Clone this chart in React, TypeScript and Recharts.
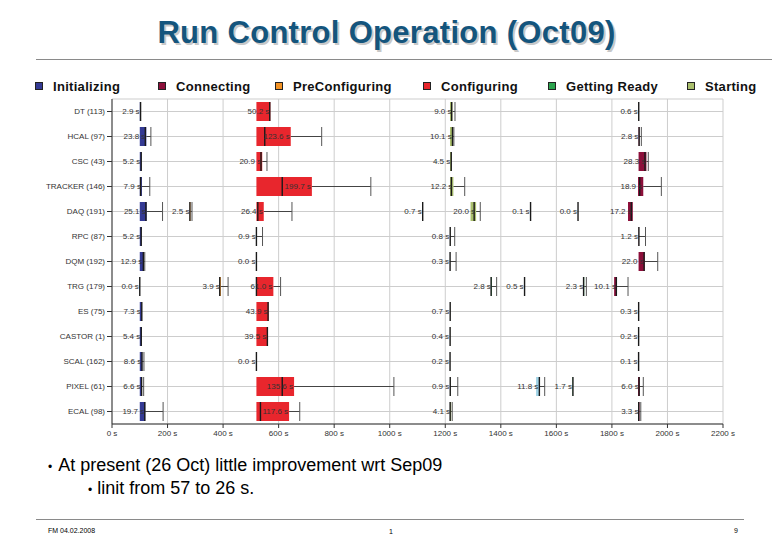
import { BarChart, Bar, XAxis, YAxis, CartesianGrid } from 'recharts';

// phase legend
const phases = ['Initializing', 'Connecting', 'PreConfiguring', 'Configuring', 'Getting Ready', 'Starting'];
const phaseColors = ['#343a94', '#8c0f3a', '#f39325', '#e8262d', '#2ca44e', '#aabf6d', '#9fd3e6'];
const legendWidths = [123, 117, 148, 125, 139, 70];

const rows = [
  'DT (113)', 'HCAL (97)', 'CSC (43)', 'TRACKER (146)', 'DAQ (191)', 'RPC (87)', 'DQM (192)',
  'TRG (179)', 'ES (75)', 'CASTOR (1)', 'SCAL (162)', 'PIXEL (61)', 'ECAL (98)',
];

const xTicks = [0, 200, 400, 600, 800, 1000, 1200, 1400, 1600, 1800, 2000, 2200];

// [start, mean, median, max, phase] in seconds
type Seg = [number, number, number, number, number];

const dt: Seg[] = [[100, 2.9, 2.9, 2.9, 0], [520, 50.2, 48, 50.2, 3], [1217, 9.0, 6, 18, 5], [1896, 0.6, 0.6, 0.6, 1]];
const hcal: Seg[] = [[100, 23.8, 20, 40, 0], [520, 123.6, 30, 235, 3], [1217, 10.1, 9, 14, 5], [1896, 2.8, 2, 10, 1]];
const csc: Seg[] = [[100, 5.2, 5.2, 5.2, 0], [520, 20.9, 16.5, 38, 3], [1217, 4.5, 4.5, 4.5, 5], [1896, 28.3, 23, 35, 1]];
const tracker: Seg[] = [[100, 7.9, 3, 36, 0], [520, 199.7, 93, 412, 3], [1217, 12.2, 5, 53, 5], [1894, 18.9, 6, 84, 1]];
const daq: Seg[] = [
  [100, 25.1, 22, 82, 0], [280, 2.5, 0.5, 8, 2], [520, 26.4, 5, 128, 3], [1118, 0.7, 0.7, 0.7, 4],
  [1291, 20.0, 13, 35, 5], [1507, 0.1, 0.1, 0.1, 4], [1678, 0.0, 0, 0, 4], [1858, 17.2, 12, 17.2, 1],
];
const rpc: Seg[] = [[100, 5.2, 5.2, 5.2, 0], [520, 0.9, 0, 22, 3], [1217, 0.8, 0.8, 17, 5], [1896, 1.2, 1.2, 25, 1]];
const dqm: Seg[] = [[100, 12.9, 12.9, 18, 0], [520, 0.0, 0, 0, 3], [1217, 0.3, 0.3, 22, 5], [1896, 22.0, 20, 69, 1]];
const trg: Seg[] = [
  [100, 0.0, 0, 0, 0], [388, 3.9, 0, 30, 2], [520, 61.0, 0, 87, 3], [1365, 2.8, 0, 20, 4],
  [1485, 0.5, 0.5, 0.5, 4], [1698, 2.3, 0, 10, 4], [1808, 10.1, 8, 50, 1],
];
const es: Seg[] = [[100, 7.3, 7.3, 7.3, 0], [520, 43.9, 42, 43.9, 3], [1217, 0.7, 0.7, 0.7, 5], [1896, 0.3, 0.3, 0.3, 1]];
const castor: Seg[] = [[100, 5.4, 5.4, 5.4, 0], [520, 39.5, 39.5, 39.5, 3], [1217, 0.4, 0.4, 0.4, 5], [1896, 0.2, 0.2, 0.2, 1]];
const scal: Seg[] = [[100, 8.6, 8, 15, 0], [520, 0.0, 0, 0, 3], [1217, 0.2, 0.2, 0.2, 5], [1896, 0.1, 0.1, 0.1, 1]];
const pixel: Seg[] = [
  [100, 6.6, 6.6, 14, 0], [520, 135.6, 93, 495, 3], [1217, 0.9, 0.9, 28, 5],
  [1527, 11.8, 11.8, 31, 6], [1658, 1.7, 1.7, 1.7, 4], [1894, 6.0, 4, 19, 1],
];
const ecal: Seg[] = [[100, 19.7, 18, 84, 0], [520, 117.6, 14.5, 156, 3], [1217, 4.1, 0.5, 8, 5], [1896, 3.3, 0.5, 8, 1]];

const rowSegs = [dt, hcal, csc, tracker, daq, rpc, dqm, trg, es, castor, scal, pixel, ecal];

const data = rows.map((name, i) => ({
  name,
  segs: rowSegs[i],
  reach: Math.max(...rowSegs[i].map((s) => s[0] + Math.max(s[1], s[3]))),
}));

const FONT = '"Liberation Sans", Arial, sans-serif';
const TICK = { fontSize: 8, fill: '#333', fontFamily: FONT };

function RowTick(props: any) {
  const { x, y, payload } = props;
  return (
    <text x={x} y={y} dy="0.35em" textAnchor="end" fontSize={8} fill="#333" fontFamily={FONT}>
      {payload.value}
    </text>
  );
}

function RowMarks(props: any) {
  const { x, y, width, height, payload } = props;
  if (!payload || !width) return null;
  const px = (v: number) => x + (width * v) / payload.reach;
  const cy = y + height / 2;
  return (
    <g>
      {payload.segs.map((s: Seg, i: number) => {
        const [start, mean, median, max, phase] = s;
        const x0 = px(start);
        const x1 = px(start + mean);
        const xm = px(start + median);
        const xx = px(start + max);
        return (
          <g key={i}>
            {max > mean && <line x1={x1} x2={xx} y1={cy} y2={cy} stroke="#444" strokeWidth={1} />}
            {max > mean && <line x1={xx} x2={xx} y1={y} y2={y + height} stroke="#555" strokeWidth={1} />}
            <rect x={x0} y={y} width={Math.max(x1 - x0, 0)} height={height} fill={phaseColors[phase]} />
            <line x1={xm} x2={xm} y1={y} y2={y + height} stroke="#1a1a1a" strokeWidth={1.4} />
            <text x={x1 - 1} y={cy} dy="0.35em" textAnchor="end" fontSize={8} fill="#333" fontFamily={FONT}>
              {mean.toFixed(1)} s
            </text>
          </g>
        );
      })}
    </g>
  );
}

export default function App() {
  return (
    <div style={{ position: 'absolute', left: 0, top: 0, width: 780, height: 540, background: '#fff', fontFamily: FONT, color: '#000' }}>
      <div
        style={{
          position: 'absolute', left: 0, top: 18, width: 773, textAlign: 'center',
          fontSize: 31, lineHeight: '30px', fontWeight: 'bold', color: '#14557d',
          letterSpacing: 0.3, textShadow: '2px 2px 0 #c8c8c8',
        }}
      >
        Run Control Operation (Oct09)
      </div>
      <div style={{ position: 'absolute', left: 36, top: 59, width: 736, height: 1, background: '#8a8a8a' }} />

      <div style={{ position: 'absolute', left: 35, top: 78, display: 'flex', alignItems: 'center', height: 16 }}>
        {phases.map((p, i) => (
          <div key={p} style={{ width: legendWidths[i], display: 'flex', alignItems: 'center' }}>
            <span style={{ width: 6, height: 6, border: '1px solid #222', background: phaseColors[i], marginRight: 10 }} />
            <span style={{ fontSize: 13, fontWeight: 'bold', letterSpacing: 0.3, color: '#111' }}>{p}</span>
          </div>
        ))}
      </div>

      <div style={{ position: 'absolute', left: 0, top: 0 }}>
        <BarChart
          width={780}
          height={540}
          data={data}
          layout="vertical"
          margin={{ top: 99, right: 57, bottom: 96, left: 32 }}
        >
          <CartesianGrid stroke="#cdcdcd" />
          <XAxis
            type="number"
            domain={[0, 2200]}
            ticks={xTicks}
            interval={0}
            tickFormatter={(v) => `${v} s`}
            tick={TICK}
            tickSize={4}
            height={20}
            axisLine={{ stroke: '#333' }}
            tickLine={{ stroke: '#333' }}
            allowDataOverflow
          />
          <XAxis xAxisId="top" orientation="top" type="number" domain={[0, 2200]} tick={false} tickLine={false} height={0} axisLine={{ stroke: '#555' }} />
          <YAxis
            type="category"
            dataKey="name"
            width={80}
            interval={0}
            tick={RowTick}
            tickSize={5}
            axisLine={{ stroke: '#333' }}
            tickLine={{ stroke: '#333' }}
          />
          <YAxis yAxisId="right" orientation="right" type="category" dataKey="name" tick={false} tickLine={false} width={0} axisLine={{ stroke: '#555' }} />
          <Bar dataKey="reach" barSize={19} shape={RowMarks} isAnimationActive={false} />
        </BarChart>
      </div>

      <div style={{ position: 'absolute', left: 48, top: 456, fontSize: 18, lineHeight: '18px', whiteSpace: 'nowrap' }}>
        <span style={{ fontSize: 12, marginRight: 6 }}>•</span>At present (26 Oct) little improvement wrt Sep09
      </div>
      <div style={{ position: 'absolute', left: 88, top: 479, fontSize: 18, lineHeight: '18px', whiteSpace: 'nowrap' }}>
        <span style={{ fontSize: 12, marginRight: 5 }}>•</span>linit from 57 to 26 s.
      </div>

      <div style={{ position: 'absolute', left: 36, top: 519, width: 708, height: 1, background: '#8a8a8a' }} />
      <div style={{ position: 'absolute', left: 48, top: 527, fontSize: 7 }}>FM 04.02.2008</div>
      <div style={{ position: 'absolute', left: 389, top: 528, fontSize: 7 }}>1</div>
      <div style={{ position: 'absolute', left: 734, top: 527, fontSize: 7 }}>9</div>
    </div>
  );
}
